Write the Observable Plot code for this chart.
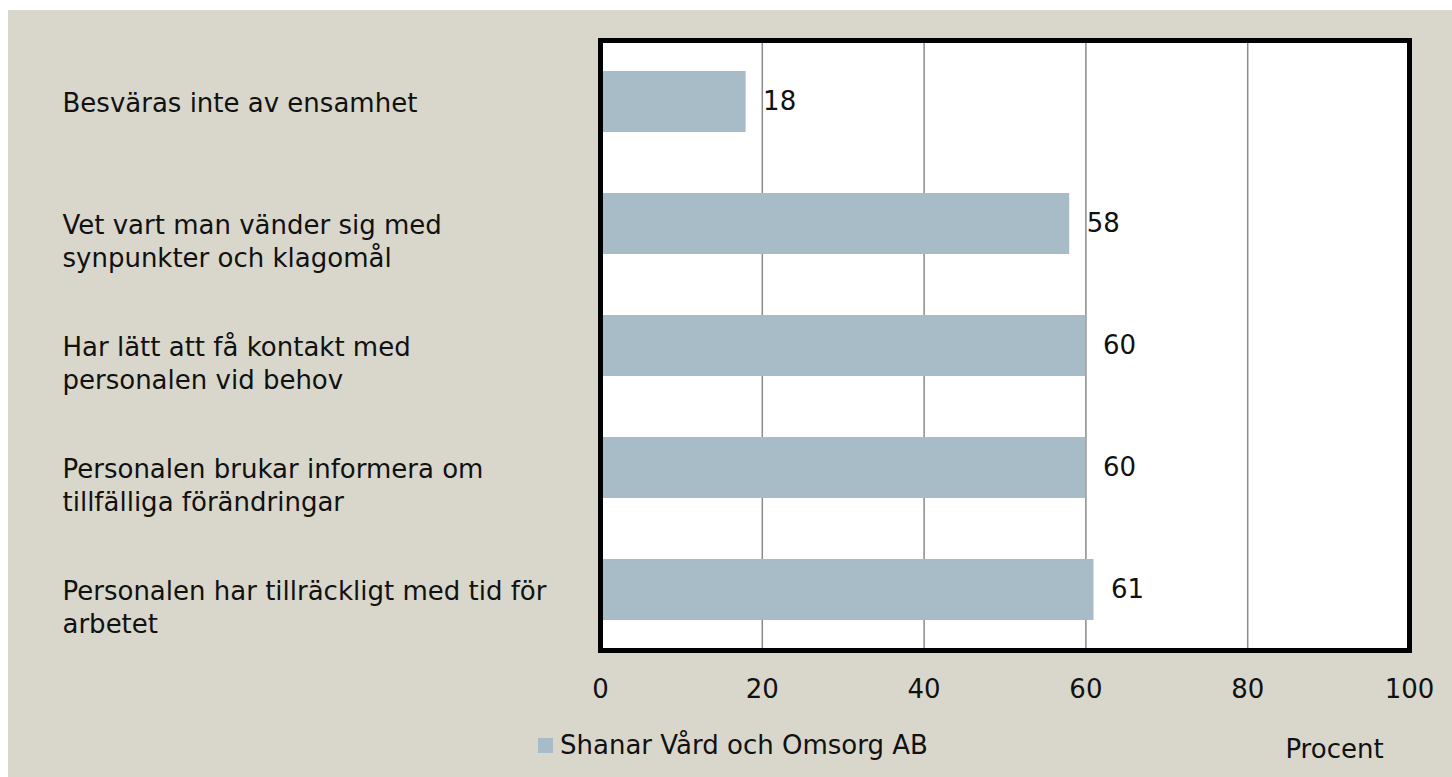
<!DOCTYPE html>
<html>
<head>
<meta charset="utf-8">
<script src="https://cdn.jsdelivr.net/npm/d3@7"></script>
<script src="https://cdn.jsdelivr.net/npm/@observablehq/plot@0.6"></script>
<style>
  html, body { margin: 0; padding: 0; background: #ffffff; }
  #panel { position: absolute; left: 8px; top: 10px; width: 1444px; height: 767px; background: #d9d7cb; overflow: hidden; }
  #panel svg { display: block; }
  #legend { position: absolute; left: 530px; top: 717px; height: 36px; display: flex; align-items: center;
    font-family: "Century Gothic", "DejaVu Sans", sans-serif; font-size: 26px; color: #111; }
  #legend .sw { width: 15px; height: 15px; margin-right: 7px; }
</style>
</head>
<body>
<div id="panel"><div id="chart"></div><div id="legend"></div></div>
<script>
const categories = [
  "Besväras inte av ensamhet",
  "Vet vart man vänder sig med\nsynpunkter och klagomål",
  "Har lätt att få kontakt med\npersonalen vid behov",
  "Personalen brukar informera om\ntillfälliga förändringar",
  "Personalen har tillräckligt med tid för\narbetet"
];
const values = [18, 58, 60, 60, 61];
const xTicks = [0, 20, 40, 60, 80, 100];
const seriesName = "Shanar Vård och Omsorg AB";
const axisTitle = "Procent";
const barColor = "#a8bcc7";

const data = categories.map((c, i) => ({category: c, value: values[i]}));
const font = '"Century Gothic", "DejaVu Sans", sans-serif';

const chart = Plot.plot({
  width: 1444,
  height: 767,
  marginLeft: 592,
  marginRight: 43,
  marginTop: 30,
  marginBottom: 127,
  style: {background: "transparent", fontFamily: font, fontSize: "26px", color: "#111"},
  x: {domain: [0, 100], ticks: xTicks, label: null},
  y: {domain: categories, paddingInner: 0.5, paddingOuter: 0.25, axis: null},
  marks: [
    Plot.frame({fill: "white", stroke: null}),
    Plot.ruleX(xTicks.filter(t => t > 0 && t < 100), {stroke: "#8a8a8a", strokeWidth: 1.5}),
    Plot.barX(data, {x: "value", y: "category", fill: barColor}),
    Plot.text(data, {x: "value", y: "category", text: d => String(d.value), textAnchor: "start", dx: 17, fontSize: 26, fill: "#111"}),
    Plot.text(data, {y: "category", text: "category", frameAnchor: "left", textAnchor: "start", lineAnchor: "top", lineHeight: 1.25, dx: -538, dy: -13, fontSize: 26, fill: "#111"}),
    Plot.axisX({ticks: xTicks, tickSize: 0, tickPadding: 29, fontSize: 26, label: null}),
    Plot.text([axisTitle], {frameAnchor: "bottom-right", textAnchor: "middle", dx: -75, dy: 107, fontSize: 26, fill: "#111"}),
    Plot.frame({stroke: "black", strokeWidth: 5})
  ]
});
document.getElementById("chart").appendChild(chart);

const legend = document.getElementById("legend");
const sw = document.createElement("span");
sw.className = "sw";
sw.style.background = barColor;
legend.appendChild(sw);
const lt = document.createElement("span");
lt.textContent = seriesName;
legend.appendChild(lt);
</script>
</body>
</html>
